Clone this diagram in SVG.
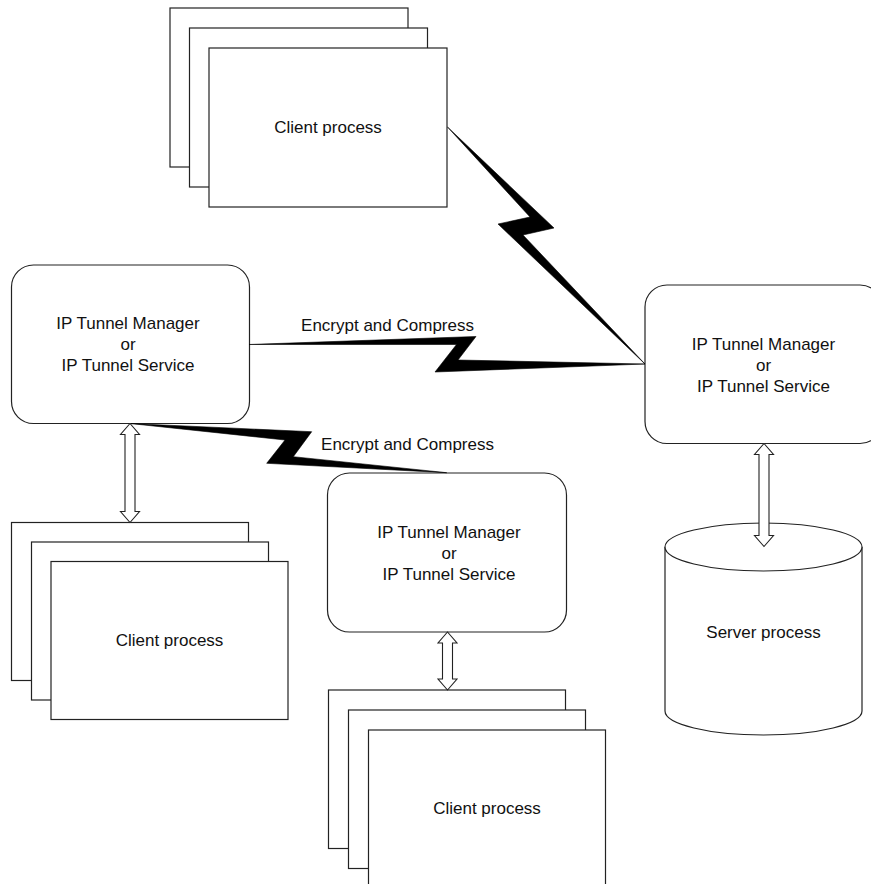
<svg xmlns="http://www.w3.org/2000/svg" width="871" height="884" viewBox="0 0 871 884">
<style>
  .sheet { fill: #ffffff; stroke: #222222; stroke-width: 1.2; }
  .box { fill: #ffffff; stroke: #222222; stroke-width: 1.2; }
  .bolt { fill: #000000; stroke: #000000; stroke-width: 0.6; stroke-linejoin: miter; }
  .dbl { fill: #ffffff; stroke: #222222; stroke-width: 1.1; stroke-linejoin: miter; }
  text { font-family: "Liberation Sans", Arial, sans-serif; font-size: 17px; fill: #111111; text-anchor: middle; }
</style>
<rect width="871" height="884" fill="#ffffff"/>

<g id="client-top">
  <rect class="sheet" x="170" y="8" width="238" height="159"/>
  <rect class="sheet" x="189.5" y="28" width="238" height="159"/>
  <rect class="sheet" x="209" y="48" width="238" height="159"/>
  <text x="328" y="133">Client process</text>
</g>

<g id="tunnel-left">
  <rect class="box" x="11.5" y="265" width="238" height="158.5" rx="22" ry="22"/>
  <text x="128" y="329">IP Tunnel Manager</text>
  <text x="128" y="350">or</text>
  <text x="128" y="371">IP Tunnel Service</text>
</g>

<g id="tunnel-middle">
  <rect class="box" x="327.5" y="473" width="239" height="159" rx="22" ry="22"/>
  <text x="449" y="537.5">IP Tunnel Manager</text>
  <text x="449" y="558.5">or</text>
  <text x="449" y="579.5">IP Tunnel Service</text>
</g>

<g id="tunnel-right">
  <rect class="box" x="645" y="285" width="237" height="158.5" rx="22" ry="22"/>
  <text x="763.5" y="349.5">IP Tunnel Manager</text>
  <text x="763.5" y="370.5">or</text>
  <text x="763.5" y="391.5">IP Tunnel Service</text>
</g>

<g id="client-left">
  <rect class="sheet" x="11.5" y="522.5" width="237" height="158"/>
  <rect class="sheet" x="31.5" y="542" width="237" height="158"/>
  <rect class="sheet" x="51" y="561.5" width="237" height="158"/>
  <text x="169.5" y="646">Client process</text>
</g>

<g id="client-bottom">
  <rect class="sheet" x="328.5" y="690" width="237" height="158.5"/>
  <rect class="sheet" x="348.5" y="710" width="237" height="158.5"/>
  <rect class="sheet" x="368.5" y="730" width="237" height="160"/>
  <text x="487" y="814">Client process</text>
</g>

<g id="server">
  <path class="box" d="M665,547 L665,711 A98.5,24 0 0 0 862,711 L862,547 A98.5,24 0 0 0 665,547 Z"/>
  <path class="box" fill="none" d="M665,547 A98.5,24 0 0 0 862,547"/>
  <text x="763.5" y="637.5">Server process</text>
</g>

<g id="connectors">
  <polygon class="bolt" points="447.5,127 554,228 523,235 645,364 498,224 530,217"/>
  <polygon class="bolt" points="249,344.5 476,336.5 458,360 645,364 435,372 456.5,344.5"/>
  <polygon class="bolt" points="130,423.5 311.7,431.7 293.3,456.7 446.7,472.7 266.7,463.3 285,440"/>
  <polygon class="dbl" points="130,423.5 139.5,434.5 135,434.5 135,511.5 139.5,511.5 130,522.5 120.5,511.5 125,511.5 125,434.5 120.5,434.5"/>
  <polygon class="dbl" points="447.5,632 457,643 452.5,643 452.5,679 457,679 447.5,690 438,679 442.5,679 442.5,643 438,643"/>
  <polygon class="dbl" points="764,443.5 773.5,454.5 769,454.5 769,535.5 773.5,535.5 764,546.5 754.5,535.5 759,535.5 759,454.5 754.5,454.5"/>
  <text x="387.5" y="331">Encrypt and Compress</text>
  <text x="407.5" y="449.5">Encrypt and Compress</text>
</g>
</svg>
